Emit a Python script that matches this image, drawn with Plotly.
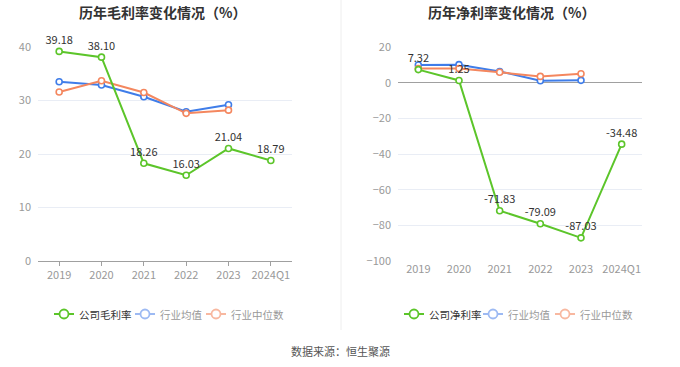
import plotly.graph_objects as go

categories = ["2019", "2020", "2021", "2022", "2023", "2024Q1"]
gross_company = [39.18, 38.10, 18.26, 16.03, 21.04, 18.79]
gross_ind_avg = [33.5, 32.9, 30.7, 27.9, 29.2, None]
gross_ind_med = [31.6, 33.7, 31.5, 27.6, 28.2, None]
net_company = [7.32, 1.25, -71.83, -79.09, -87.03, -34.48]
net_ind_avg = [9.9, 10.1, 6.3, 1.1, 1.3, None]
net_ind_med = [7.9, 7.9, 5.8, 3.5, 5.0, None]

left_legend = ["公司毛利率", "行业均值", "行业中位数"]
right_legend = ["公司净利率", "行业均值", "行业中位数"]

GREEN = "#5cc52a"
BLUE = "#3f7de9"
ORANGE = "#f4875f"
BLUE_L = "#9dbaf3"
ORANGE_L = "#f8b8a0"
FONT = "Noto Sans CJK SC"

W, H = 680, 367
fig = go.Figure()


def px_x(x):
    return x / W


def px_y(y):
    return 1 - y / H


def add_series(xa, ya, y, color, labels):
    fig.add_trace(go.Scatter(
        x=categories, y=y, xaxis=xa, yaxis=ya,
        mode="lines+markers+text" if labels else "lines+markers",
        line=dict(color=color, width=2),
        marker=dict(symbol="circle", size=6, color="white",
                    line=dict(color=color, width=1.6)),
        text=[f"{v:.2f}" for v in y] if labels else None,
        textposition="top center",
        textfont=dict(size=11, color="#333", family=FONT),
        showlegend=False, cliponaxis=False, hoverinfo="skip",
    ))


add_series("x", "y", gross_ind_avg, BLUE, False)
add_series("x", "y", gross_ind_med, ORANGE, False)
add_series("x", "y", gross_company, GREEN, True)
add_series("x2", "y2", net_ind_avg, BLUE, False)
add_series("x2", "y2", net_ind_med, ORANGE, False)
add_series("x2", "y2", net_company, GREEN, True)

ydom = [px_y(261), px_y(47)]
axis_common = dict(
    type="category", range=[-0.5, 5.5], showgrid=False,
    tickfont=dict(size=11, color="#999", family=FONT),
    fixedrange=True,
)
yaxis_common = dict(
    showgrid=True, gridcolor="#e9edf5", gridwidth=1,
    tickfont=dict(size=11, color="#999", family=FONT),
    ticks="", showline=False, ticklabelstandoff=6,
)

fig.update_layout(
    width=W, height=H,
    margin=dict(l=0, r=0, t=0, b=0, autoexpand=False),
    paper_bgcolor="white", plot_bgcolor="white",
    font=dict(family=FONT),
    showlegend=False,
    xaxis=dict(domain=[px_x(38), px_x(292)], anchor="y",
               showline=True, linecolor="#a0a0a0", ticks="outside",
               ticklen=4, tickcolor="#a0a0a0", **axis_common),
    yaxis=dict(domain=ydom, anchor="x", range=[0, 40], dtick=10,
               zeroline=False, **yaxis_common),
    xaxis2=dict(domain=[px_x(398), px_x(642)], anchor="y2",
                showline=False, ticks="", **axis_common),
    yaxis2=dict(domain=ydom, anchor="x2", range=[-100, 20], dtick=20,
                zeroline=True, zerolinecolor="#a0a0a0", zerolinewidth=1,
                **yaxis_common),
)


def text_at(x, y, text, size, color, xanchor="center"):
    fig.add_annotation(x=px_x(x), y=px_y(y), xref="paper", yref="paper",
                       text=text, showarrow=False, xanchor=xanchor,
                       yanchor="middle",
                       font=dict(size=size, color=color, family=FONT))


text_at(162, 12, "<b>历年毛利率变化情况（%）</b>", 14, "#333")
text_at(511, 12, "<b>历年净利率变化情况（%）</b>", 14, "#333")
text_at(340, 351, "数据来源：恒生聚源", 11, "#555")

fig.add_shape(type="line", xref="paper", yref="paper",
              x0=px_x(341), x1=px_x(341), y0=px_y(0), y1=px_y(330),
              line=dict(color="#eeeeee", width=1))


def legend_item(x0, label, color, textcolor):
    yc = 314
    fig.add_shape(type="line", xref="paper", yref="paper",
                  x0=px_x(x0), x1=px_x(x0 + 20), y0=px_y(yc), y1=px_y(yc),
                  line=dict(color=color, width=2))
    r = 4.5
    fig.add_shape(type="circle", xref="paper", yref="paper",
                  x0=px_x(x0 + 10 - r), x1=px_x(x0 + 10 + r),
                  y0=px_y(yc + r), y1=px_y(yc - r),
                  fillcolor="white", line=dict(color=color, width=1.8))
    text_at(x0 + 23, yc, label, 10.5, textcolor, xanchor="left")


legend_colors = [(GREEN, "#333"), (BLUE_L, "#999"), (ORANGE_L, "#999")]
for x0, label, (c, tc) in zip([54, 135, 206], left_legend, legend_colors):
    legend_item(x0, label, c, tc)
for x0, label, (c, tc) in zip([404, 483, 555], right_legend, legend_colors):
    legend_item(x0, label, c, tc)

fig.write_html("out.html", config={"displayModeBar": False},
               post_script="document.body.style.margin='0';")
